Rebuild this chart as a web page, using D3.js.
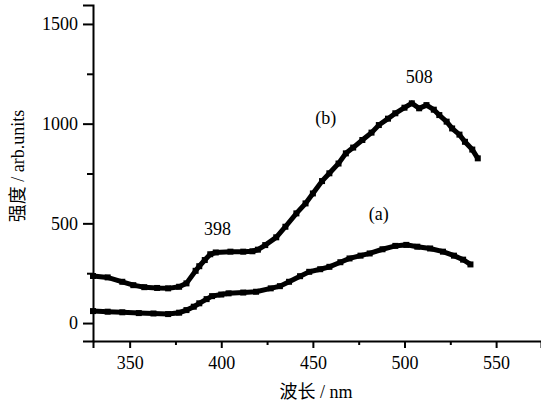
<!DOCTYPE html>
<html>
<head>
<meta charset="utf-8">
<script src="https://cdn.jsdelivr.net/npm/d3@7"></script>
<style>
  body { margin: 0; background: #fff; }
</style>
</head>
<body>
<svg id="chart" width="541" height="406"></svg>
<script>
const FONT = "'Liberation Serif', 'Noto Sans CJK SC', serif";

// spectrum (b)
const waveB = [330, 338, 346, 352, 358, 365, 371, 377, 381, 386, 388, 391, 394, 397, 405, 412, 417, 420, 424, 430, 435, 441, 446, 450, 455, 459, 464, 468, 472, 477, 482, 486, 491, 495, 500, 504, 508, 512, 516, 519, 523, 526, 530, 533, 537, 540];
const intB = [236, 229, 207, 190, 180, 176, 174, 182, 199, 262, 285, 316, 345, 354, 358, 358, 360, 368, 391, 430, 483, 550, 600, 650, 712, 751, 800, 851, 880, 918, 955, 993, 1025, 1052, 1080, 1102, 1077, 1093, 1070, 1043, 1010, 976, 945, 909, 870, 826];

// spectrum (a)
const waveA = [330, 338, 346, 355, 363, 371, 377, 381, 385, 388, 392, 395, 400, 404, 412, 419, 427, 432, 437, 443, 448, 454, 459, 465, 470, 476, 481, 488, 495, 501, 507, 514, 521, 527, 532, 536];
const intA = [60, 57, 54, 50, 48, 45, 52, 65, 82, 99, 120, 135, 143, 149, 153, 157, 174, 185, 207, 235, 257, 270, 282, 305, 324, 338, 349, 370, 387, 392, 383, 374, 358, 338, 318, 294];

const xTicks = [350, 400, 450, 500, 550];
const xMinor = [375, 425, 475, 525];
const yTicks = [0, 500, 1000, 1500];
const yMinor = [250, 750, 1250];

const labels = [
  { text: "398", wl: 398, v: 440 },
  { text: "508", wl: 508, v: 1205 },
  { text: "(b)", wl: 457, v: 1000 },
  { text: "(a)", wl: 486, v: 515 }
];

const svg = d3.select("#chart");
const x = d3.scaleLinear().domain([330, 574.5]).range([93, 541]);
const y = d3.scaleLinear().domain([-90, 1595]).range([341, 5]);

function styleAxis(g) {
  g.attr("font-family", null);
  g.select(".domain").attr("stroke-width", 2);
  g.selectAll(".tick line").attr("stroke-width", 2);
  g.selectAll("text")
    .style("font-family", FONT)
    .attr("font-size", 18);
}

// axes
svg.append("g")
  .attr("transform", "translate(0,341)")
  .call(d3.axisBottom(x).tickValues(xTicks).tickSize(7).tickPadding(8).tickFormat(d3.format("d")))
  .call(styleAxis);

svg.append("g")
  .attr("transform", "translate(0,341)")
  .call(d3.axisBottom(x).tickValues(xMinor).tickSize(4).tickFormat(""))
  .call(styleAxis)
  .call(g => g.select(".domain").remove());

svg.append("g")
  .attr("transform", "translate(93,0)")
  .call(d3.axisLeft(y).tickValues(yTicks).tickSize(10).tickPadding(5).tickFormat(d3.format("d")))
  .call(styleAxis);

svg.append("g")
  .attr("transform", "translate(93,0)")
  .call(d3.axisLeft(y).tickValues(yMinor).tickSize(6).tickFormat(""))
  .call(styleAxis)
  .call(g => g.select(".domain").remove());

// curves
const line = d3.line().x(d => x(d[0])).y(d => y(d[1]));

function curve(wl, vals) {
  const pts = wl.map((w, i) => [w, vals[i]]);
  svg.append("path")
    .datum(pts)
    .attr("d", line)
    .attr("fill", "none")
    .attr("stroke", "#000")
    .attr("stroke-width", 5);
  svg.append("g").selectAll("rect")
    .data(pts)
    .enter().append("rect")
    .attr("x", d => x(d[0]) - 3)
    .attr("y", d => y(d[1]) - 3)
    .attr("width", 6)
    .attr("height", 6)
    .attr("fill", "#000");
}
curve(waveA, intA);
curve(waveB, intB);

// annotations
svg.append("g").selectAll("text")
  .data(labels)
  .enter().append("text")
  .attr("x", d => x(d.wl))
  .attr("y", d => y(d.v))
  .attr("text-anchor", "middle")
  .attr("font-size", 18)
  .style("font-family", FONT)
  .text(d => d.text);

// axis titles
svg.append("text")
  .attr("x", 316)
  .attr("y", 398)
  .attr("text-anchor", "middle")
  .attr("font-size", 18)
  .style("font-family", FONT)
  .text("波长 / nm");

svg.append("text")
  .attr("transform", "translate(24,166) rotate(-90)")
  .attr("text-anchor", "middle")
  .attr("font-size", 18)
  .style("font-family", FONT)
  .text("强度 / arb.units");
</script>
</body>
</html>
